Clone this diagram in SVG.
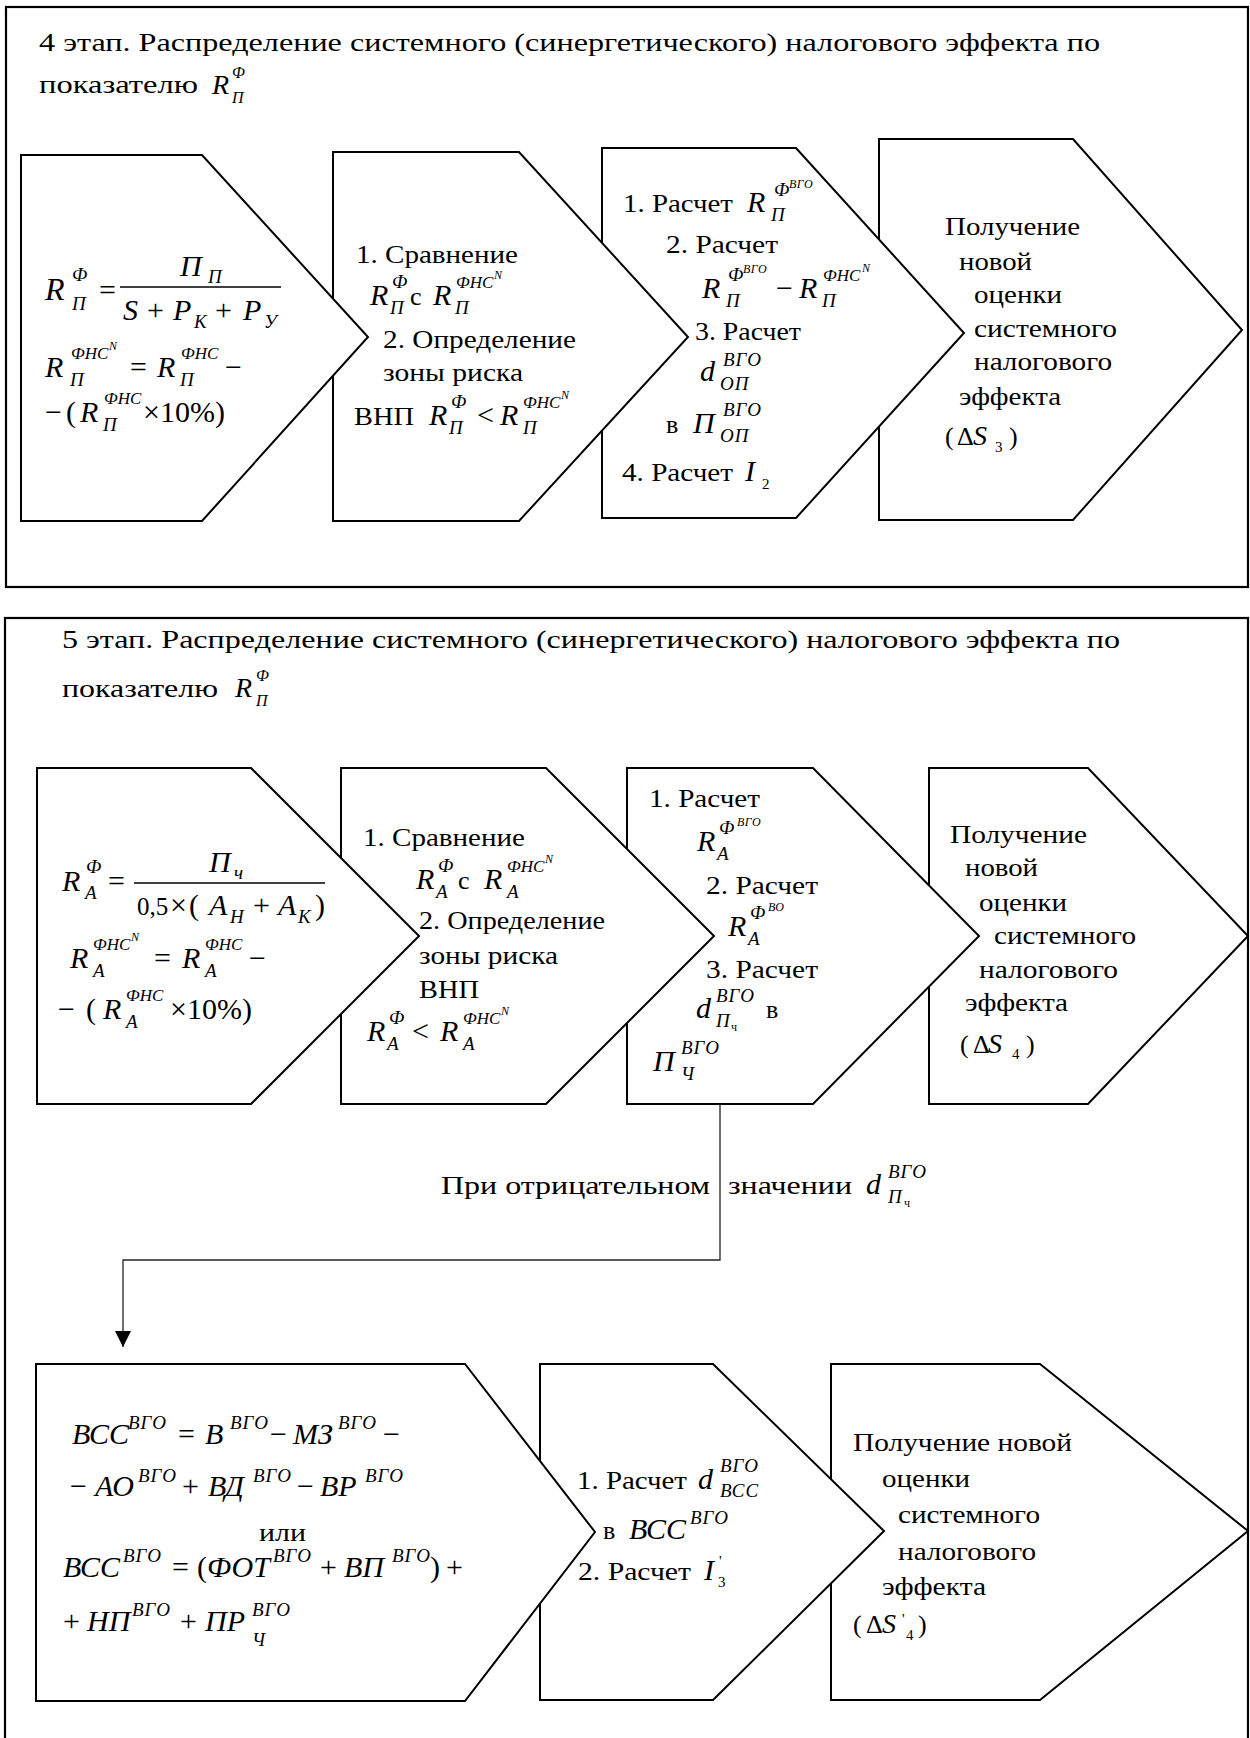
<svg xmlns="http://www.w3.org/2000/svg" width="1250" height="1738" viewBox="0 0 1250 1738">
<defs>
<style>
.frame{fill:none;stroke:#000;stroke-width:2.2}
.node{fill:#fff;stroke:#000;stroke-width:2}
.tx{font-family:"Liberation Serif","Times New Roman",serif;font-size:26px;fill:#000}
.mi{font-family:"Liberation Serif",serif;font-style:italic;font-size:30px}
.mu{font-family:"Liberation Serif",serif;font-style:normal;font-size:30px}
.sb{font-family:"Liberation Serif",serif;font-style:italic;font-size:19px;letter-spacing:1px}
.sf{font-family:"Liberation Serif",serif;font-style:italic;font-size:17px}
.ss{font-family:"Liberation Serif",serif;font-style:italic;font-size:12px;letter-spacing:0.5px}
.sn{font-family:"Liberation Serif",serif;font-style:normal;font-size:15px}
.conn{fill:none;stroke:#222;stroke-width:1.3}
.bar{stroke:#000;stroke-width:1.5}
</style>
<marker id="arr" markerUnits="userSpaceOnUse" markerWidth="16" markerHeight="16" viewBox="0 0 16 16" refX="16" refY="8" orient="auto"><path d="M0,0 L16,8 L0,16 z" fill="#000"/></marker>
</defs>
<rect width="1250" height="1738" fill="#fff"/>

<g id="stage4">
<rect class="frame" x="6" y="7" width="1242" height="580"/>
<text class="tx" x="39" y="51" textLength="1061" lengthAdjust="spacingAndGlyphs">4 этап. Распределение системного (синергетического) налогового эффекта по</text>
<text class="tx" x="39" y="93" textLength="159" lengthAdjust="spacingAndGlyphs">показателю</text>
<text class="mi"><tspan style="font-size:28px" x="212" y="94">R</tspan><tspan class="sb" style="font-size:16px" x="232" y="78">Ф</tspan><tspan class="sb" style="font-size:16px" x="232" y="103">П</tspan></text>

<g id="s4-n4">
<polygon class="node" points="879,139 1073,139 1242,330 1073,520 879,520"/>
<text class="tx" x="945" y="235" textLength="135" lengthAdjust="spacingAndGlyphs">Получение</text>
<text class="tx" x="959" y="270" textLength="73" lengthAdjust="spacingAndGlyphs">новой</text>
<text class="tx" x="974" y="303" textLength="88" lengthAdjust="spacingAndGlyphs">оценки</text>
<text class="tx" x="974" y="337" textLength="143" lengthAdjust="spacingAndGlyphs">системного</text>
<text class="tx" x="974" y="370" textLength="138" lengthAdjust="spacingAndGlyphs">налогового</text>
<text class="tx" x="959" y="405" textLength="102" lengthAdjust="spacingAndGlyphs">эффекта</text>
<text class="tx"><tspan x="945" y="445">(</tspan><tspan x="957" y="445">Δ</tspan><tspan class="mi" style="font-size:28px" x="973" y="445">S</tspan><tspan class="sn" x="995" y="452">3</tspan><tspan x="1009" y="445">)</tspan></text>
</g>

<g id="s4-n3">
<polygon class="node" points="602,148 796,148 964,333 796,518 602,518"/>
<text class="tx" x="623" y="212" textLength="110" lengthAdjust="spacingAndGlyphs">1. Расчет</text>
<text class="tx" x="666" y="253" textLength="112" lengthAdjust="spacingAndGlyphs">2. Расчет</text>
<text class="tx" x="695" y="340" textLength="106" lengthAdjust="spacingAndGlyphs">3. Расчет</text>
<text class="tx" x="622" y="481" textLength="111" lengthAdjust="spacingAndGlyphs">4. Расчет</text>
<text class="tx" x="666" y="433">в</text>
<text class="mi">
<tspan x="747" y="212">R</tspan><tspan class="sb" x="774" y="196">Ф</tspan><tspan class="ss" x="789" y="188">ВГО</tspan><tspan class="sb" x="771" y="221">П</tspan>
<tspan x="702" y="298">R</tspan><tspan class="sb" x="728" y="281">Ф</tspan><tspan class="ss" x="743" y="273">ВГО</tspan><tspan class="sb" x="726" y="307">П</tspan><tspan class="mu" x="776" y="298">−</tspan><tspan x="799" y="298">R</tspan><tspan class="sf" x="823" y="281">ФНС</tspan><tspan class="ss" x="862" y="272">N</tspan><tspan class="sb" x="822" y="307">П</tspan>
<tspan x="700" y="381">d</tspan><tspan class="sb" x="723" y="366">ВГО</tspan><tspan class="sb" x="720" y="390">ОП</tspan>
<tspan x="693" y="433">П</tspan><tspan class="sb" x="723" y="416">ВГО</tspan><tspan class="sb" x="720" y="442">ОП</tspan>
<tspan x="745" y="481">I</tspan><tspan class="sn" x="762" y="489">2</tspan>
</text>
</g>

<g id="s4-n2">
<polygon class="node" points="333,152 519,152 688,337 519,521 333,521"/>
<text class="tx" x="356" y="263" textLength="162" lengthAdjust="spacingAndGlyphs">1. Сравнение</text>
<text class="tx" x="410" y="305">с</text>
<text class="tx" x="383" y="348" textLength="193" lengthAdjust="spacingAndGlyphs">2. Определение</text>
<text class="tx" x="383" y="381" textLength="140" lengthAdjust="spacingAndGlyphs">зоны риска</text>
<text class="tx" x="354" y="425" textLength="60" lengthAdjust="spacingAndGlyphs">ВНП</text>
<text class="mi">
<tspan x="370" y="305">R</tspan><tspan class="sb" x="392" y="288">Ф</tspan><tspan class="sb" x="390" y="314">П</tspan><tspan x="433" y="305">R</tspan><tspan class="sf" x="456" y="288">ФНС</tspan><tspan class="ss" x="494" y="279">N</tspan><tspan class="sb" x="455" y="314">П</tspan>
<tspan x="429" y="425">R</tspan><tspan class="sb" x="451" y="408">Ф</tspan><tspan class="sb" x="449" y="434">П</tspan><tspan class="mu" x="477" y="425">&lt;</tspan><tspan x="500" y="425">R</tspan><tspan class="sf" x="523" y="408">ФНС</tspan><tspan class="ss" x="561" y="399">N</tspan><tspan class="sb" x="523" y="434">П</tspan>
</text>
</g>

<g id="s4-n1">
<polygon class="node" points="21,155 202,155 368,337 202,521 21,521"/>
<line class="bar" x1="120" y1="287" x2="281" y2="287"/>
<text class="mi">
<tspan style="font-size:32px" x="45" y="300">R</tspan><tspan class="sb" x="72" y="281">Ф</tspan><tspan class="sb" x="72" y="310">П</tspan><tspan class="mu" x="99" y="300">=</tspan>
<tspan x="180" y="276">П</tspan><tspan class="sb" x="208" y="283">П</tspan>
<tspan x="123" y="320">S</tspan><tspan class="mu" x="147" y="320">+</tspan><tspan x="173" y="320">P</tspan><tspan class="sb" x="194" y="328">К</tspan><tspan class="mu" x="215" y="320">+</tspan><tspan x="243" y="320">P</tspan><tspan class="sb" x="264" y="328">У</tspan>
<tspan x="45" y="377">R</tspan><tspan class="sf" x="71" y="359">ФНС</tspan><tspan class="ss" x="109" y="350">N</tspan><tspan class="sb" x="70" y="386">П</tspan><tspan class="mu" x="130" y="377">=</tspan><tspan x="157" y="377">R</tspan><tspan class="sf" x="181" y="359">ФНС</tspan><tspan class="sb" x="180" y="386">П</tspan><tspan class="mu" x="225" y="377">−</tspan>
<tspan class="mu" x="45" y="422">−</tspan><tspan class="mu" x="66" y="422">(</tspan><tspan x="80" y="422">R</tspan><tspan class="sf" x="104" y="404">ФНС</tspan><tspan class="sb" x="103" y="431">П</tspan><tspan class="mu" x="143" y="422">×10%)</tspan>
</text>
</g>
</g>

<g id="stage5">
<rect class="frame" x="5" y="618" width="1243" height="1140"/>
<text class="tx" x="62" y="648" textLength="1058" lengthAdjust="spacingAndGlyphs">5 этап. Распределение системного (синергетического) налогового эффекта по</text>
<text class="tx" x="62" y="697" textLength="156" lengthAdjust="spacingAndGlyphs">показателю</text>
<text class="mi"><tspan style="font-size:28px" x="235" y="697">R</tspan><tspan class="sb" style="font-size:16px" x="256" y="681">Ф</tspan><tspan class="sb" style="font-size:16px" x="256" y="706">П</tspan></text>

<g id="s5-n4">
<polygon class="node" points="929,768 1088,768 1248,936 1088,1104 929,1104"/>
<text class="tx" x="950" y="843" textLength="137" lengthAdjust="spacingAndGlyphs">Получение</text>
<text class="tx" x="965" y="876" textLength="73" lengthAdjust="spacingAndGlyphs">новой</text>
<text class="tx" x="979" y="911" textLength="88" lengthAdjust="spacingAndGlyphs">оценки</text>
<text class="tx" x="994" y="944" textLength="142" lengthAdjust="spacingAndGlyphs">системного</text>
<text class="tx" x="979" y="978" textLength="139" lengthAdjust="spacingAndGlyphs">налогового</text>
<text class="tx" x="965" y="1011" textLength="103" lengthAdjust="spacingAndGlyphs">эффекта</text>
<text class="tx"><tspan x="960" y="1053">(</tspan><tspan x="973" y="1053">Δ</tspan><tspan class="mi" style="font-size:28px" x="988" y="1053">S</tspan><tspan class="sn" x="1012" y="1059">4</tspan><tspan x="1026" y="1053">)</tspan></text>
</g>

<g id="s5-n3">
<polygon class="node" points="627,768 813,768 979,936 813,1104 627,1104"/>
<text class="tx" x="649" y="807" textLength="111" lengthAdjust="spacingAndGlyphs">1. Расчет</text>
<text class="tx" x="706" y="894" textLength="112" lengthAdjust="spacingAndGlyphs">2. Расчет</text>
<text class="tx" x="706" y="978" textLength="112" lengthAdjust="spacingAndGlyphs">3. Расчет</text>
<text class="tx" x="766" y="1018">в</text>
<text class="mi">
<tspan x="697" y="851">R</tspan><tspan class="sb" x="719" y="834">Ф</tspan><tspan class="ss" x="737" y="826">ВГО</tspan><tspan class="sb" x="717" y="860">А</tspan>
<tspan x="728" y="936">R</tspan><tspan class="sb" x="750" y="919">Ф</tspan><tspan class="ss" x="768" y="911">ВО</tspan><tspan class="sb" x="748" y="945">А</tspan>
<tspan x="696" y="1018">d</tspan><tspan class="sb" x="716" y="1002">ВГО</tspan><tspan class="sb" x="716" y="1027">П</tspan><tspan class="sn" style="font-size:12px" x="731" y="1031">ч</tspan>
<tspan x="653" y="1071">П</tspan><tspan class="sb" x="681" y="1054">ВГО</tspan><tspan class="sb" x="681" y="1080">Ч</tspan>
</text>
</g>

<g id="s5-n2">
<polygon class="node" points="341,768 546,768 714,936 546,1104 341,1104"/>
<text class="tx" x="363" y="846" textLength="162" lengthAdjust="spacingAndGlyphs">1. Сравнение</text>
<text class="tx" x="458" y="889">с</text>
<text class="tx" x="419" y="929" textLength="186" lengthAdjust="spacingAndGlyphs">2. Определение</text>
<text class="tx" x="419" y="964" textLength="139" lengthAdjust="spacingAndGlyphs">зоны риска</text>
<text class="tx" x="419" y="998" textLength="60" lengthAdjust="spacingAndGlyphs">ВНП</text>
<text class="mi">
<tspan x="416" y="889">R</tspan><tspan class="sb" x="438" y="872">Ф</tspan><tspan class="sb" x="436" y="898">А</tspan><tspan x="484" y="889">R</tspan><tspan class="sf" x="507" y="872">ФНС</tspan><tspan class="ss" x="545" y="863">N</tspan><tspan class="sb" x="507" y="898">А</tspan>
<tspan x="367" y="1041">R</tspan><tspan class="sb" x="389" y="1024">Ф</tspan><tspan class="sb" x="387" y="1050">А</tspan><tspan class="mu" x="412" y="1041">&lt;</tspan><tspan x="440" y="1041">R</tspan><tspan class="sf" x="463" y="1024">ФНС</tspan><tspan class="ss" x="501" y="1015">N</tspan><tspan class="sb" x="463" y="1050">А</tspan>
</text>
</g>

<g id="s5-n1">
<polygon class="node" points="37,768 251,768 419,936 251,1104 37,1104"/>
<line class="bar" x1="134" y1="883" x2="325" y2="883"/>
<text class="mi">
<tspan x="62" y="891">R</tspan><tspan class="sb" x="86" y="873">Ф</tspan><tspan class="sb" x="85" y="899">А</tspan><tspan class="mu" x="108" y="891">=</tspan>
<tspan x="209" y="872">П</tspan><tspan class="sb" x="234" y="879">ч</tspan>
<tspan class="mu" style="font-size:25px" x="137" y="915">0,5</tspan><tspan class="mu" x="170" y="915">×</tspan><tspan class="mu" x="189" y="915">(</tspan><tspan x="209" y="915">А</tspan><tspan class="sb" x="230" y="923">Н</tspan><tspan class="mu" x="253" y="915">+</tspan><tspan x="278" y="915">А</tspan><tspan class="sb" x="298" y="923">К</tspan><tspan class="mu" x="315" y="915">)</tspan>
<tspan x="70" y="968">R</tspan><tspan class="sf" x="93" y="950">ФНС</tspan><tspan class="ss" x="131" y="941">N</tspan><tspan class="sb" x="93" y="977">А</tspan><tspan class="mu" x="154" y="968">=</tspan><tspan x="182" y="968">R</tspan><tspan class="sf" x="205" y="950">ФНС</tspan><tspan class="sb" x="205" y="977">А</tspan><tspan class="mu" x="249" y="968">−</tspan>
<tspan class="mu" x="58" y="1019">−</tspan><tspan class="mu" x="86" y="1019">(</tspan><tspan x="103" y="1019">R</tspan><tspan class="sf" x="126" y="1001">ФНС</tspan><tspan class="sb" x="126" y="1028">А</tspan><tspan class="mu" x="170" y="1019">×10%)</tspan>
</text>
</g>

<g id="r2-n3">
<polygon class="node" points="831,1364 1040,1364 1248,1531 1040,1700 831,1700"/>
<text class="tx" x="853" y="1451" textLength="219" lengthAdjust="spacingAndGlyphs">Получение новой</text>
<text class="tx" x="882" y="1487" textLength="88" lengthAdjust="spacingAndGlyphs">оценки</text>
<text class="tx" x="898" y="1523" textLength="142" lengthAdjust="spacingAndGlyphs">системного</text>
<text class="tx" x="898" y="1560" textLength="138" lengthAdjust="spacingAndGlyphs">налогового</text>
<text class="tx" x="882" y="1595" textLength="104" lengthAdjust="spacingAndGlyphs">эффекта</text>
<text class="tx"><tspan x="853" y="1633">(</tspan><tspan x="866" y="1633">Δ</tspan><tspan class="mi" style="font-size:28px" x="882" y="1633">S</tspan><tspan class="sn" x="902" y="1624">'</tspan><tspan class="sn" x="906" y="1640">4</tspan><tspan x="918" y="1633">)</tspan></text>
</g>

<g id="r2-n2">
<polygon class="node" points="540,1364 713,1364 884,1531 713,1700 540,1700"/>
<text class="tx" x="577" y="1489" textLength="110" lengthAdjust="spacingAndGlyphs">1. Расчет</text>
<text class="tx" x="603" y="1539">в</text>
<text class="tx" x="578" y="1580" textLength="113" lengthAdjust="spacingAndGlyphs">2. Расчет</text>
<text class="mi">
<tspan x="698" y="1489">d</tspan><tspan class="sb" x="720" y="1472">ВГО</tspan><tspan class="sb" x="720" y="1497">ВСС</tspan>
<tspan x="629" y="1539">ВСС</tspan><tspan class="sb" x="690" y="1524">ВГО</tspan>
<tspan x="704" y="1580">I</tspan><tspan class="sn" x="719" y="1566">'</tspan><tspan class="sn" x="718" y="1587">3</tspan>
</text>
</g>

<g id="r2-n1">
<polygon class="node" points="36,1364 465,1364 595,1532 465,1701 36,1701"/>
<text class="tx" x="259" y="1541" textLength="47" lengthAdjust="spacingAndGlyphs">или</text>
<text class="mi">
<tspan x="72" y="1444">ВСС</tspan><tspan class="sb" x="128" y="1429">ВГО</tspan><tspan class="mu" x="178" y="1444">=</tspan><tspan x="205" y="1444">В</tspan><tspan class="sb" x="230" y="1429">ВГО</tspan><tspan class="mu" x="270" y="1444">−</tspan><tspan x="293" y="1444">МЗ</tspan><tspan class="sb" x="338" y="1429">ВГО</tspan><tspan class="mu" x="383" y="1444">−</tspan>
<tspan class="mu" x="70" y="1496">−</tspan><tspan x="95" y="1496">АО</tspan><tspan class="sb" x="138" y="1482">ВГО</tspan><tspan class="mu" x="182" y="1496">+</tspan><tspan x="208" y="1496">ВД</tspan><tspan class="sb" x="253" y="1482">ВГО</tspan><tspan class="mu" x="297" y="1496">−</tspan><tspan x="320" y="1496">ВР</tspan><tspan class="sb" x="365" y="1482">ВГО</tspan>
<tspan x="63" y="1577">ВСС</tspan><tspan class="sb" x="123" y="1562">ВГО</tspan><tspan class="mu" x="172" y="1577">=</tspan><tspan class="mu" x="197" y="1577">(</tspan><tspan x="207" y="1577">ФОТ</tspan><tspan class="sb" x="273" y="1562">ВГО</tspan><tspan class="mu" x="320" y="1577">+</tspan><tspan x="344" y="1577">ВП</tspan><tspan class="sb" x="392" y="1562">ВГО</tspan><tspan class="mu" x="430" y="1577">)</tspan><tspan class="mu" x="446" y="1577">+</tspan>
<tspan class="mu" x="63" y="1631">+</tspan><tspan x="87" y="1631">НП</tspan><tspan class="sb" x="132" y="1616">ВГО</tspan><tspan class="mu" x="180" y="1631">+</tspan><tspan x="205" y="1631">ПР</tspan><tspan class="sb" x="252" y="1616">ВГО</tspan><tspan class="sb" x="252" y="1646">Ч</tspan>
</text>
</g>
</g>

<g id="connectors">
<path class="conn" d="M720,1104 V1260 H123 V1347" marker-end="url(#arr)"/>
<text class="tx" x="441" y="1194" textLength="269" lengthAdjust="spacingAndGlyphs">При отрицательном</text>
<text class="tx" x="728" y="1194" textLength="124" lengthAdjust="spacingAndGlyphs">значении</text>
<text class="mi"><tspan x="866" y="1194">d</tspan><tspan class="sb" x="888" y="1178">ВГО</tspan><tspan class="sb" x="888" y="1203">П</tspan><tspan class="sn" style="font-size:12px" x="904" y="1207">ч</tspan></text>
</g>
</svg>
